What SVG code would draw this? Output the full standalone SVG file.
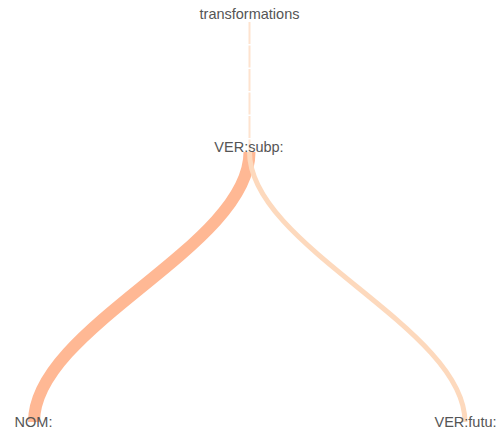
<svg xmlns="http://www.w3.org/2000/svg" width="499" height="431" viewBox="0 0 499 431">
<style>
  .lbl { font-family: "Liberation Sans", Arial, sans-serif; font-size: 14.5px; fill: #555555; text-anchor: middle; }
  .link { fill: none; }
</style>
<rect width="499" height="431" fill="#ffffff"/>
<g id="connectors">
  <path class="link" d="M249.5,22 V152" stroke="#fee3cf" stroke-width="2" stroke-dasharray="22 1.5"/>
  <path class="link" d="M249.5,152 C249.5,247 34,327 34,422" stroke="#ffb894" stroke-width="12"/>
  <path class="link" d="M249.5,152 C249.5,247 465,327 465,422" stroke="#fdd9bd" stroke-width="5"/>
</g>
<g id="node-transformations"><text class="lbl" x="249.5" y="19">transformations</text></g>
<g id="node-ver-subp"><text class="lbl" x="249" y="152">VER:subp:</text></g>
<g id="node-nom"><text class="lbl" x="33.5" y="427">NOM:</text></g>
<g id="node-ver-futu"><text class="lbl" x="465.5" y="427">VER:futu:</text></g>
</svg>
